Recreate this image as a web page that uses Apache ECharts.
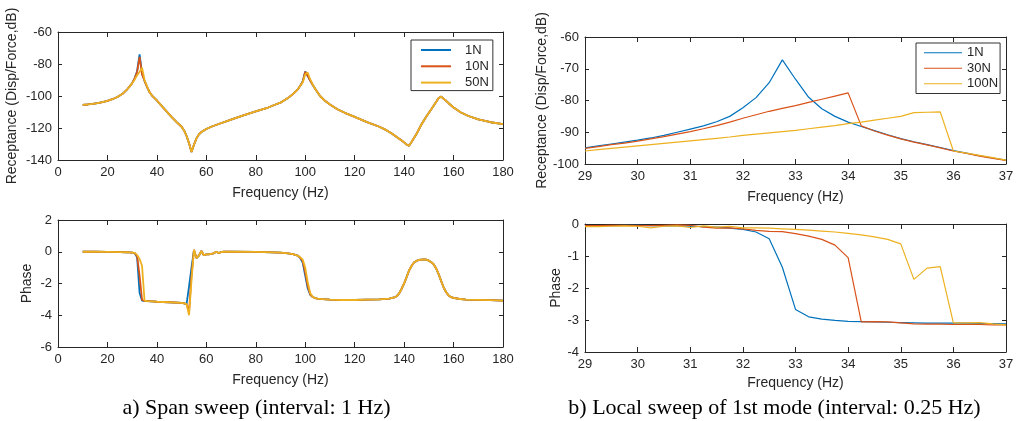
<!DOCTYPE html>
<html><head><meta charset="utf-8">
<script src="https://cdn.jsdelivr.net/npm/echarts@6/dist/echarts.min.js"></script>
<style>html,body{margin:0;padding:0;background:#fff}#c{width:1020px;height:421px}</style>
</head><body><div id="c"></div>
<script>
// ---------- data ----------
const freqSpan = [10,12,14,16,18,20,22,24,26,28,29,30,31,32,33,34,35,36,37,38,40,42,44,46,48,50,51,52,53,54,55,56,57,58,60,62,65,70,75,80,85,88,90,93,95,97,98,99,100,101,102,103,104,106,108,110,113,116,120,125,130,133,135,137,139,140,141,142,143,145,147,149,151,152,153,154,155,156,157,158,160,163,166,170,175,180];
const magSpan1N = [-105.6,-105.3,-104.9,-104.4,-103.8,-103.1,-102.0,-100.6,-98.8,-95.8,-94.0,-92.0,-89.0,-84.5,-74.0,-86.0,-90.5,-94.3,-97.5,-99.7,-102.8,-106.3,-109.8,-113.2,-116.3,-119.2,-121.5,-125.0,-129.5,-135.0,-130.5,-126.5,-124.0,-122.5,-120.6,-119.2,-117.5,-114.8,-112.1,-109.6,-107.2,-105.3,-104.2,-101.3,-98.8,-95.8,-93.6,-90.8,-84.6,-87.5,-90.3,-93.0,-95.5,-100.0,-103.0,-105.3,-108.3,-110.5,-113.0,-116.3,-119.2,-121.5,-123.4,-125.6,-127.8,-129.0,-130.4,-131.1,-128.8,-123.8,-117.8,-112.8,-108.3,-106.0,-103.6,-101.3,-100.4,-101.8,-103.0,-104.5,-107.2,-110.3,-112.5,-114.6,-116.4,-117.6];
const magSpan10N = [-105.6,-105.3,-104.9,-104.4,-103.8,-103.1,-102.0,-100.6,-98.8,-95.8,-94.0,-92.0,-89.0,-85.0,-75.5,-86.5,-90.5,-94.3,-97.5,-99.7,-102.8,-106.3,-109.8,-113.2,-116.3,-119.2,-121.5,-125.0,-129.5,-135.0,-130.5,-126.5,-124.0,-122.5,-120.6,-119.2,-117.5,-114.8,-112.1,-109.6,-107.2,-105.3,-104.2,-101.3,-98.8,-95.8,-93.6,-91.0,-84.8,-87.3,-90.3,-93.0,-95.5,-100.0,-103.0,-105.3,-108.3,-110.5,-113.0,-116.3,-119.2,-121.5,-123.4,-125.6,-127.8,-129.0,-130.4,-131.1,-128.8,-123.8,-117.8,-112.8,-108.3,-106.0,-103.6,-101.3,-100.4,-101.8,-103.0,-104.5,-107.2,-110.3,-112.5,-114.6,-116.4,-117.6];
const magSpan50N = [-105.6,-105.3,-104.9,-104.4,-103.8,-103.1,-102.0,-100.6,-98.8,-95.8,-94.0,-92.0,-89.8,-87.0,-85.0,-82.3,-90.0,-94.0,-97.5,-99.7,-102.8,-106.3,-109.8,-113.2,-116.3,-119.2,-121.5,-125.0,-129.5,-135.0,-130.5,-126.5,-124.0,-122.5,-120.6,-119.2,-117.5,-114.8,-112.1,-109.6,-107.2,-105.3,-104.2,-101.3,-98.8,-95.8,-93.6,-91.5,-86.5,-85.3,-89.5,-92.8,-95.5,-100.0,-103.0,-105.3,-108.3,-110.5,-113.0,-116.3,-119.2,-121.5,-123.4,-125.6,-127.8,-129.0,-130.4,-131.1,-128.8,-123.8,-117.8,-112.8,-108.3,-106.0,-103.6,-101.3,-100.4,-101.8,-103.0,-104.5,-107.2,-110.3,-112.5,-114.6,-116.4,-117.6];

const freqSpanPh = [10,15,20,25,28,30,31,32,33,34,35,36,38,40,45,50,51,52,53,54,55,56,57,58,59,60,61,62,63,64,65,66,67,70,80,90,93,95,97,98,99,100,101,102,103,104,105,107,110,115,120,125,130,134,136,137,138,139,140,141,142,143,144,145,146,147,148,149,150,151,152,153,154,155,156,157,158,159,160,162,165,170,175,180];
const phSpan1N = [0,0,-0.01,-0.02,-0.03,-0.05,-0.08,-0.35,-2.6,-3.08,-3.1,-3.11,-3.13,-3.15,-3.18,-3.22,-3.25,-3.3,-2.2,-1.0,0.1,-0.4,-0.25,0.05,-0.22,-0.17,-0.16,-0.13,-0.1,0.0,-0.08,-0.02,0,0,-0.01,-0.06,-0.1,-0.15,-0.25,-0.4,-0.7,-1.5,-2.3,-2.7,-2.85,-2.92,-2.95,-2.99,-3.02,-3.04,-3.04,-3.02,-3.0,-2.95,-2.88,-2.8,-2.62,-2.33,-2.0,-1.6,-1.18,-0.9,-0.68,-0.58,-0.52,-0.49,-0.48,-0.5,-0.56,-0.66,-0.8,-1.07,-1.42,-1.85,-2.25,-2.55,-2.75,-2.86,-2.91,-2.96,-3.01,-3.03,-3.05,-3.08];
const phSpan10N = [0,0,-0.01,-0.02,-0.03,-0.05,-0.08,-0.28,-1.5,-3.04,-3.1,-3.11,-3.13,-3.15,-3.18,-3.22,-3.25,-3.3,-3.8,-1.5,0.12,-0.4,-0.25,0.05,-0.22,-0.17,-0.16,-0.13,-0.1,0.0,-0.08,-0.02,0,0,-0.01,-0.06,-0.1,-0.15,-0.25,-0.38,-0.6,-1.3,-2.15,-2.68,-2.85,-2.92,-2.95,-2.99,-3.02,-3.04,-3.04,-3.02,-3.0,-2.95,-2.88,-2.8,-2.62,-2.33,-2.0,-1.6,-1.18,-0.9,-0.68,-0.58,-0.52,-0.49,-0.48,-0.5,-0.56,-0.66,-0.8,-1.07,-1.42,-1.85,-2.25,-2.55,-2.75,-2.86,-2.91,-2.96,-3.01,-3.03,-3.05,-3.08];
const phSpan50N = [0,0,-0.01,-0.02,-0.03,-0.05,-0.07,-0.2,-0.45,-0.9,-3.08,-3.11,-3.13,-3.15,-3.18,-3.22,-3.25,-3.3,-4.0,-1.8,0.12,-0.4,-0.25,0.05,-0.22,-0.17,-0.16,-0.13,-0.1,0.0,-0.08,-0.02,0,0,-0.01,-0.06,-0.1,-0.15,-0.25,-0.35,-0.5,-1.0,-1.9,-2.6,-2.84,-2.92,-2.95,-2.99,-3.02,-3.04,-3.04,-3.02,-3.0,-2.95,-2.88,-2.8,-2.62,-2.33,-2.0,-1.6,-1.18,-0.9,-0.68,-0.58,-0.52,-0.49,-0.48,-0.5,-0.56,-0.66,-0.8,-1.07,-1.42,-1.85,-2.25,-2.55,-2.75,-2.86,-2.91,-2.96,-3.01,-3.03,-3.05,-3.08];

const freqLocal = [29,29.25,29.5,29.75,30,30.25,30.5,30.75,31,31.25,31.5,31.75,32,32.25,32.5,32.75,33,33.25,33.5,33.75,34,34.25,34.5,34.75,35,35.25,35.5,35.75,36,36.25,36.5,36.75,37];
const magLocal1N = [-94.9,-94.3,-93.7,-93.1,-92.5,-91.8,-91.0,-90.0,-89.0,-88.0,-86.7,-85.0,-82.3,-79.1,-74.4,-67.2,-73.3,-79.0,-82.6,-85.0,-86.8,-88.2,-89.5,-90.8,-92.0,-93.0,-93.9,-94.8,-95.8,-96.6,-97.4,-98.1,-98.8];
const magLocal30N = [-95.1,-94.5,-93.9,-93.4,-92.8,-92.1,-91.4,-90.6,-89.8,-88.9,-87.9,-86.8,-85.6,-84.5,-83.4,-82.5,-81.6,-80.6,-79.6,-78.6,-77.6,-88.0,-89.6,-90.9,-92.1,-93.1,-94.0,-94.9,-95.9,-96.7,-97.5,-98.2,-98.9];
const magLocal100N = [-95.9,-95.5,-95.1,-94.7,-94.3,-93.9,-93.5,-93.1,-92.7,-92.3,-91.9,-91.5,-91.0,-90.6,-90.2,-89.8,-89.4,-88.9,-88.4,-87.9,-87.3,-86.8,-86.2,-85.6,-85.0,-83.8,-83.7,-83.6,-95.9,-96.6,-97.3,-98.0,-98.8];
const phLocal1N = [-0.05,-0.05,-0.05,-0.04,-0.04,-0.05,-0.06,-0.06,-0.07,-0.08,-0.1,-0.13,-0.17,-0.25,-0.46,-1.35,-2.67,-2.9,-2.97,-3.01,-3.04,-3.05,-3.06,-3.07,-3.08,-3.09,-3.1,-3.1,-3.1,-3.1,-3.11,-3.11,-3.12];
const phLocal30N = [-0.05,-0.05,-0.04,-0.04,-0.05,-0.05,-0.04,-0.03,-0.04,-0.1,-0.13,-0.12,-0.15,-0.2,-0.23,-0.24,-0.3,-0.38,-0.48,-0.66,-1.05,-3.06,-3.05,-3.06,-3.09,-3.12,-3.13,-3.13,-3.14,-3.14,-3.14,-3.15,-3.15];
const phLocal100N = [-0.08,-0.08,-0.07,-0.06,-0.07,-0.12,-0.07,-0.06,-0.11,-0.06,-0.1,-0.07,-0.12,-0.12,-0.13,-0.15,-0.17,-0.19,-0.22,-0.25,-0.29,-0.34,-0.4,-0.48,-0.62,-1.73,-1.38,-1.33,-3.09,-3.09,-3.08,-3.12,-3.15];

const namesSpan = ['1N','10N','50N'];
const namesLocal = ['1N','30N','100N'];
const spanXTicks = {min:0, max:180, interval:20};
const localXTicks = {min:29, max:37, interval:1};
const captionA = 'a) Span sweep (interval: 1 Hz)';
const captionB = 'b) Local sweep of 1st mode (interval: 0.25 Hz)';

// ---------- styling ----------
const AX = '#262626';
const FONT = '"Liberation Sans", Arial, sans-serif';
const COLORS = ['#0072BD','#D95319','#EDB120'];

function xAx(grid, t, bottom, nameGap) {
  return {
    type:'value', gridIndex:grid, position: bottom?'bottom':'top',
    min:t.min, max:t.max, interval:t.interval,
    name: bottom ? 'Frequency (Hz)' : '', nameLocation:'middle', nameGap:nameGap,
    nameTextStyle:{fontSize:14, color:AX, fontFamily:FONT},
    axisLine:{show:true, onZero:false, lineStyle:{color:AX, width:1}},
    axisTick:{show:true, inside:true, length:5, lineStyle:{color:AX}},
    axisLabel:{show:bottom, margin:6, fontSize:13, color:AX, fontFamily:FONT},
    splitLine:{show:false}
  };
}
function yAx(grid, min, max, interval, left, name, nameGap) {
  return {
    type:'value', gridIndex:grid, position: left?'left':'right',
    min:min, max:max, interval:interval,
    name: left ? name : '', nameLocation:'middle', nameGap:nameGap,
    nameTextStyle:{fontSize:14, color:AX, fontFamily:FONT},
    axisLine:{show:true, onZero:false, lineStyle:{color:AX, width:1}},
    axisTick:{show:true, inside:true, length:4, lineStyle:{color:AX}},
    axisLabel:{show:left, margin:6, fontSize:13, color:AX, fontFamily:FONT},
    splitLine:{show:false}
  };
}
function mk(name, freq, vals, xi, yi, ci, w) {
  return {
    type:'line', name:name, xAxisIndex:xi, yAxisIndex:yi,
    data: freq.map((f,i)=>[f, vals[i]]),
    symbol:'none', showSymbol:false, smooth:false,
    lineStyle:{color:COLORS[ci], width:w}, itemStyle:{color:COLORS[ci]},
    z: 2+ci, animation:false
  };
}

const chart = echarts.init(document.getElementById('c'), null, {renderer:'canvas'});
chart.setOption({
  backgroundColor:'#fff',
  animation:false,
  grid:[
    {left:58, top:32, width:445, height:128},
    {left:58, top:220, width:445, height:127},
    {left:585, top:37, width:421, height:127},
    {left:585, top:224, width:421, height:128}
  ],
  xAxis:[
    xAx(0, spanXTicks, true, 26), xAx(0, spanXTicks, false, 0),
    xAx(1, spanXTicks, true, 26), xAx(1, spanXTicks, false, 0),
    xAx(2, localXTicks, true, 26), xAx(2, localXTicks, false, 0),
    xAx(3, localXTicks, true, 24), xAx(3, localXTicks, false, 0)
  ],
  yAxis:[
    yAx(0, -140, -60, 20, true, 'Receptance (Disp/Force,dB)', 39), yAx(0, -140, -60, 20, false, '', 0),
    yAx(1, -6, 2, 2, true, 'Phase', 24), yAx(1, -6, 2, 2, false, '', 0),
    yAx(2, -100, -60, 10, true, 'Receptance (Disp/Force,dB)', 36), yAx(2, -100, -60, 10, false, '', 0),
    yAx(3, -4, 0, 1, true, 'Phase', 22), yAx(3, -4, 0, 1, false, '', 0)
  ],
  legend:[
    {data:namesSpan, orient:'vertical', left:411, top:40, itemWidth:30, itemHeight:2, icon:'rect',
     itemGap:0.3, padding:[2,4,0,10], borderColor:'#333', borderWidth:1, backgroundColor:'#fff',
     textStyle:{fontSize:13, lineHeight:16, color:AX, fontFamily:FONT, padding:[0,0,0,9]}, selectedMode:false},
    {data:namesLocal, orient:'vertical', left:916, top:43, itemWidth:38, itemHeight:1, icon:'rect',
     itemGap:0, padding:[2,2,2,8], borderColor:'#333', borderWidth:1, backgroundColor:'#fff',
     textStyle:{fontSize:13, lineHeight:15.5, color:AX, fontFamily:FONT, padding:[0,0,0,0]}, selectedMode:false}
  ],
  series:[
    mk(namesSpan[0], freqSpan, magSpan1N, 0, 0, 0, 1.8),
    mk(namesSpan[1], freqSpan, magSpan10N, 0, 0, 1, 1.8),
    mk(namesSpan[2], freqSpan, magSpan50N, 0, 0, 2, 1.8),
    mk(namesSpan[0], freqSpanPh, phSpan1N, 2, 2, 0, 1.8),
    mk(namesSpan[1], freqSpanPh, phSpan10N, 2, 2, 1, 1.8),
    mk(namesSpan[2], freqSpanPh, phSpan50N, 2, 2, 2, 1.8),
    mk(namesLocal[0], freqLocal, magLocal1N, 4, 4, 0, 1.2),
    mk(namesLocal[1], freqLocal, magLocal30N, 4, 4, 1, 1.2),
    mk(namesLocal[2], freqLocal, magLocal100N, 4, 4, 2, 1.2),
    mk(namesLocal[0], freqLocal, phLocal1N, 6, 6, 0, 1.2),
    mk(namesLocal[1], freqLocal, phLocal30N, 6, 6, 1, 1.2),
    mk(namesLocal[2], freqLocal, phLocal100N, 6, 6, 2, 1.2)
  ],
  graphic:[
    {type:'text', x:256.5, y:408, style:{text:captionA, align:'center', verticalAlign:'middle', fontSize:22, fontFamily:'"Liberation Serif", "Times New Roman", serif', fill:'#000'}},
    {type:'text', x:774.5, y:408, style:{text:captionB, align:'center', verticalAlign:'middle', fontSize:22, fontFamily:'"Liberation Serif", "Times New Roman", serif', fill:'#000'}}
  ]
});
</script></body></html>
